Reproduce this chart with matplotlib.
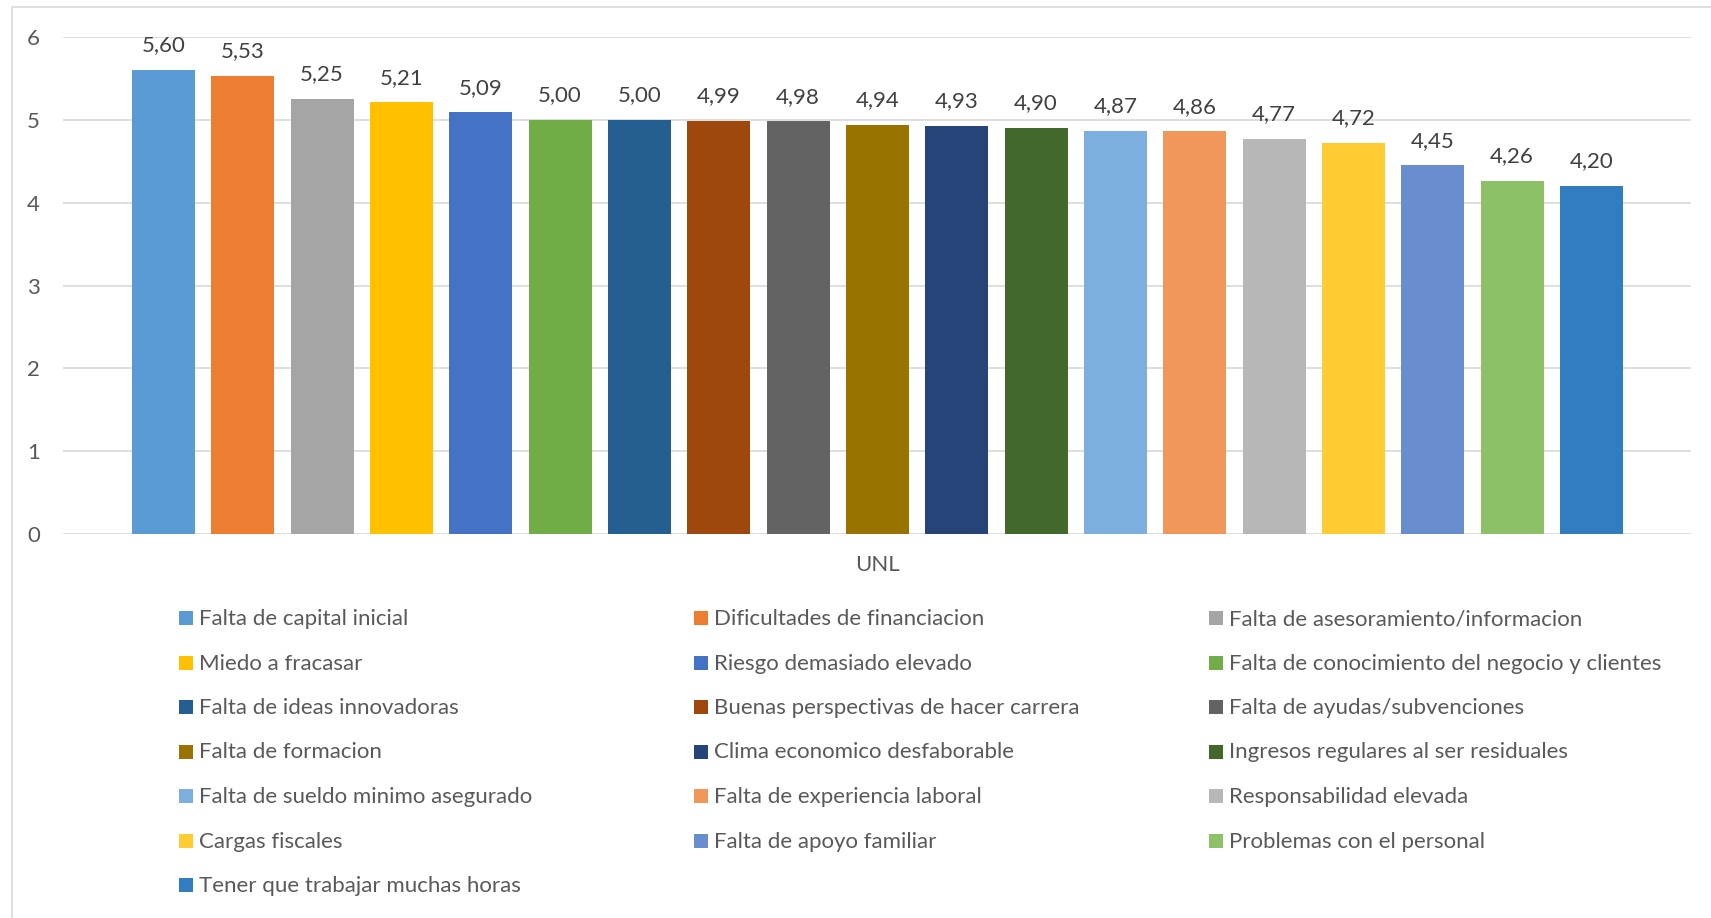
import matplotlib
matplotlib.use("Agg")
import matplotlib.pyplot as plt
from matplotlib.patches import Rectangle

categories = [
    "Falta de capital inicial",
    "Dificultades de financiacion",
    "Falta de asesoramiento/informacion",
    "Miedo a fracasar",
    "Riesgo demasiado elevado",
    "Falta de conocimiento del negocio y clientes",
    "Falta de ideas innovadoras",
    "Buenas perspectivas de hacer carrera",
    "Falta de ayudas/subvenciones",
    "Falta de formacion",
    "Clima economico desfaborable",
    "Ingresos regulares al ser residuales",
    "Falta de sueldo minimo asegurado",
    "Falta de experiencia laboral",
    "Responsabilidad elevada",
    "Cargas fiscales",
    "Falta de apoyo familiar",
    "Problemas con el personal",
    "Tener que trabajar muchas horas",
]
values = [5.60, 5.53, 5.25, 5.21, 5.09, 5.00, 5.00, 4.99, 4.98, 4.94,
          4.93, 4.90, 4.87, 4.86, 4.77, 4.72, 4.45, 4.26, 4.20]
colors = ["#5B9BD5", "#ED7D31", "#A5A5A5", "#FFC000", "#4472C4", "#70AD47",
          "#255E91", "#9E480E", "#636363", "#997300", "#264478", "#43682B",
          "#7CAFDD", "#F1975A", "#B7B7B7", "#FFCD33", "#698ED0", "#8CC168",
          "#327DC2"]
group_label = "UNL"
yticks = [0, 1, 2, 3, 4, 5, 6]

FONT = "Lato"
FS = 16
W, H = 1711, 918

fig = plt.figure(figsize=(W / 100, H / 100), dpi=100)
fig.patch.set_facecolor("white")

# outer chart frame
fig.add_artist(Rectangle((12 / W, -0.05), 1.1, 1 - 7 / H + 0.05,
                         transform=fig.transFigure, fill=False,
                         edgecolor="#D9D9D9", linewidth=1.2))

ax = fig.add_axes([63 / W, 1 - 534 / H, (1691 - 63) / W, (534 - 37) / H])
x = list(range(len(values)))
bars = ax.bar(x, values, width=0.794, color=colors, zorder=3)
ax.set_xlim(-1.267, 19.255)
ax.set_ylim(0, 6)
ax.set_yticks(yticks)
ax.set_yticklabels([str(t) for t in yticks], fontfamily=FONT, fontsize=FS,
                   color="#595959")
ax.tick_params(axis="y", length=0, pad=16.5)
ax.set_xticks([(len(values) - 1) / 2])
ax.set_xticklabels([group_label], fontfamily=FONT, fontsize=FS, color="#595959")
ax.tick_params(axis="x", length=0, pad=15)
ax.grid(axis="y", color="#D9D9D9", linewidth=1.2, zorder=0)
for s in ax.spines.values():
    s.set_visible(False)

for xi, v in zip(x, values):
    ax.annotate(f"{v:.2f}".replace(".", ","), (xi, v), xytext=(0, 13.5),
                textcoords="offset points", ha="center", va="baseline",
                fontfamily=FONT, fontsize=FS, color="#404040")

# legend (row-major, 3 columns)
col_x = [179, 694, 1209]
row0 = 625
row_step = 44.5
for i, (lab, c) in enumerate(zip(categories, colors)):
    r, cidx = divmod(i, 3)
    base = row0 + r * row_step
    mx = col_x[cidx]
    fig.add_artist(Rectangle((mx / W, 1 - base / H), 14 / W, 14 / H,
                             transform=fig.transFigure, facecolor=c,
                             edgecolor="none"))
    fig.text((mx + 20) / W, 1 - base / H, lab, fontfamily=FONT, fontsize=FS,
             color="#595959", ha="left", va="baseline")

fig.savefig("out.png", dpi=100, facecolor="white")
